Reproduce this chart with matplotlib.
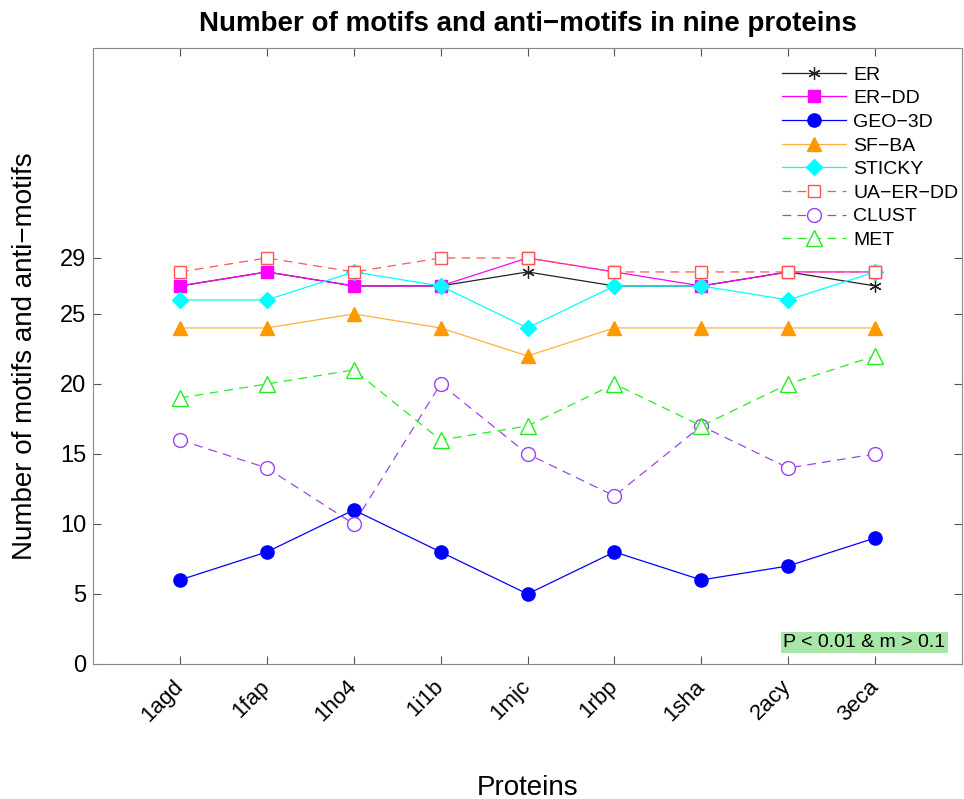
import numpy as np
import matplotlib
matplotlib.use("Agg")
import matplotlib.pyplot as plt

plt.rcParams['font.family'] = ['Liberation Sans', 'DejaVu Sans']

proteins = ['1agd', '1fap', '1ho4', '1i1b', '1mjc', '1rbp', '1sha', '2acy', '3eca']

er = [27, 28, 27, 27, 28, 27, 27, 28, 27]
er_dd = [27, 28, 27, 27, 29, 28, 27, 28, 28]
geo_3d = [6, 8, 11, 8, 5, 8, 6, 7, 9]
sf_ba = [24, 24, 25, 24, 22, 24, 24, 24, 24]
sticky = [26, 26, 28, 27, 24, 27, 27, 26, 28]
ua_er_dd = [28, 29, 28, 29, 29, 28, 28, 28, 28]
clust = [16, 14, 10, 20, 15, 12, 17, 14, 15]
met = [19, 20, 21, 16, 17, 20, 17, 20, 22]

y_ticks = [0, 5, 10, 15, 20, 25, 29]

x = np.arange(1, len(proteins) + 1)

fig = plt.figure(figsize=(9.64, 7.99), dpi=100)
ax = fig.add_axes([0.0965, 0.169, 0.9015, 0.771])

lw = 0.9
ax.plot(x, er, color='#222222', lw=lw, marker=(6, 2, 0), ms=9, mew=0.9, label='ER')
ax.plot(x, er_dd, color='#ff00ff', lw=lw, marker='s', ms=8, label='ER−DD')
ax.plot(x, geo_3d, color='#0000ff', lw=lw, marker='o', ms=9.5, label='GEO−3D')
ax.plot(x, sf_ba, color='#ffb040', lw=lw, marker='^', ms=10.5, mfc='#ff9900', mec='#ff9900', label='SF−BA')
ax.plot(x, sticky, color='#00ffff', lw=lw, marker='D', ms=8, label='STICKY')
ax.plot(x, ua_er_dd, color='#ff5555', lw=lw, ls=(0, (7, 5)), marker='s', ms=9, mfc='white', mew=1, label='UA−ER−DD')
ax.plot(x, clust, color='#9944ee', lw=lw, ls=(0, (7, 5)), marker='o', ms=10, mfc='white', mew=1, label='CLUST')
ax.plot(x, met, color='#22ee22', lw=lw, ls=(0, (7, 5)), marker='^', ms=11, mfc='white', mew=1, label='MET')

ax.set_xlim(0, 10)
ax.set_ylim(0, 44)
ax.set_xticks(x)
ax.set_xticklabels(proteins, rotation=45, ha='right', va='center', rotation_mode='anchor', fontsize=16)
ax.set_yticks(y_ticks)
ax.tick_params(axis='y', labelsize=17, pad=5)
ax.tick_params(axis='x', pad=14)
ax.tick_params(direction='in', top=True, right=True, length=6, color='#555555')
for sp in ax.spines.values():
    sp.set_color('#888888')

ax.set_title('Number of motifs and anti−motifs in nine proteins', fontsize=20, fontweight='bold', pad=12)
ax.set_ylabel('Number of motifs and anti−motifs', fontsize=20, labelpad=16)
ax.set_xlabel('Proteins', fontsize=20, labelpad=35)

ax.legend(loc='upper right', frameon=False, fontsize=14, handlelength=3.3,
          handletextpad=0.35, labelspacing=0.31, borderaxespad=0.0, borderpad=0.2,
          bbox_to_anchor=(1.0, 0.977))

ax.text(9.81, 1.55, 'P < 0.01 & m > 0.1', fontsize=14, ha='right', va='center',
        bbox=dict(boxstyle='square,pad=0.1', fc='#a8e6a8', ec='none'))

fig.savefig('out.png', dpi=100)
